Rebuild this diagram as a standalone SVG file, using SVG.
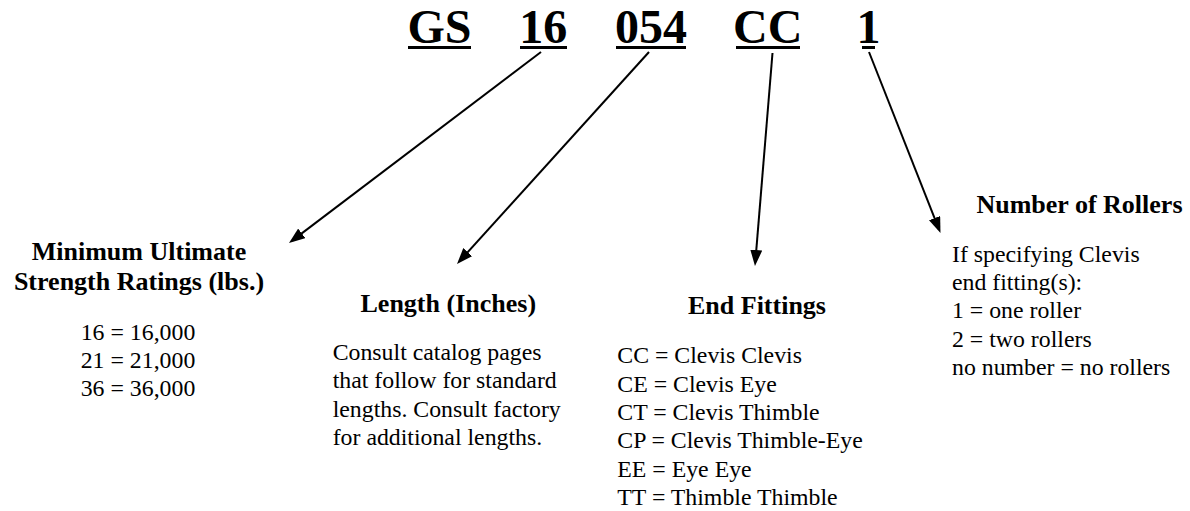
<svg xmlns="http://www.w3.org/2000/svg" width="1190" height="511" viewBox="0 0 1190 511">
<style>
.t{font-family:"Liberation Serif","Times New Roman",serif;font-weight:bold;font-size:48px;fill:#000;text-anchor:middle}
.h{font-family:"Liberation Serif","Times New Roman",serif;font-weight:bold;font-size:26px;fill:#000;text-anchor:middle}
.b{font-family:"Liberation Serif","Times New Roman",serif;font-size:23.8px;fill:#000}
.ul{fill:#000}
.c{stroke:#000;stroke-width:2;fill:none;marker-end:url(#ah)}
</style>
<defs>
<marker id="ah" markerUnits="userSpaceOnUse" markerWidth="16" markerHeight="12" refX="12" refY="6" orient="auto">
<path d="M0,0 L16,6 L0,12 z" fill="#000"/>
</marker>
</defs>
<rect width="1190" height="511" fill="#fff"/>
<g id="title">
<text class="t" x="439.5" y="42.5">GS</text>
<text class="t" x="543.3" y="42.5">16</text>
<text class="t" x="651" y="42.5">054</text>
<text class="t" x="767.7" y="42.5">CC</text>
<text class="t" x="868.5" y="42.5">1</text>
<rect class="ul" x="408" y="46" width="63" height="3"/>
<rect class="ul" x="520" y="46" width="47" height="3"/>
<rect class="ul" x="616" y="46" width="70" height="3"/>
<rect class="ul" x="736" y="46" width="64" height="3"/>
<rect class="ul" x="862" y="46" width="13" height="3"/>
</g>
<g id="connectors">
<line class="c" x1="541" y1="52" x2="292.2" y2="240.6"/>
<line class="c" x1="649" y1="52" x2="459.7" y2="261"/>
<line class="c" x1="772.5" y1="53" x2="755.3" y2="262"/>
<line class="c" x1="869" y1="52" x2="939" y2="229.3"/>
</g>
<g id="strength">
<text class="h" x="139" y="260">Minimum Ultimate</text>
<text class="h" x="139" y="290">Strength Ratings (lbs.)</text>
<text class="b" x="138" y="339.5" text-anchor="middle">16 = 16,000</text>
<text class="b" x="138" y="367.8" text-anchor="middle">21 = 21,000</text>
<text class="b" x="138" y="396.1" text-anchor="middle">36 = 36,000</text>
</g>
<g id="length">
<text class="h" x="448.3" y="312">Length (Inches)</text>
<text class="b" x="332.7" y="360">Consult catalog pages</text>
<text class="b" x="332.7" y="388.3">that follow for standard</text>
<text class="b" x="332.7" y="416.6">lengths. Consult factory</text>
<text class="b" x="332.7" y="444.9">for additional lengths.</text>
</g>
<g id="endfittings">
<text class="h" x="757" y="314">End Fittings</text>
<text class="b" x="617.3" y="363.3">CC = Clevis Clevis</text>
<text class="b" x="617.3" y="391.6">CE = Clevis Eye</text>
<text class="b" x="617.3" y="419.9">CT = Clevis Thimble</text>
<text class="b" x="617.3" y="448.2">CP = Clevis Thimble-Eye</text>
<text class="b" x="617.3" y="476.5">EE = Eye Eye</text>
<text class="b" x="617.3" y="504.8">TT = Thimble Thimble</text>
</g>
<g id="rollers">
<text class="h" x="1079.5" y="213">Number of Rollers</text>
<text class="b" x="952" y="261.7">If specifying Clevis</text>
<text class="b" x="952" y="290">end fitting(s):</text>
<text class="b" x="952" y="318.3">1 = one roller</text>
<text class="b" x="952" y="346.6">2 = two rollers</text>
<text class="b" x="952" y="374.9">no number = no rollers</text>
</g>
</svg>
